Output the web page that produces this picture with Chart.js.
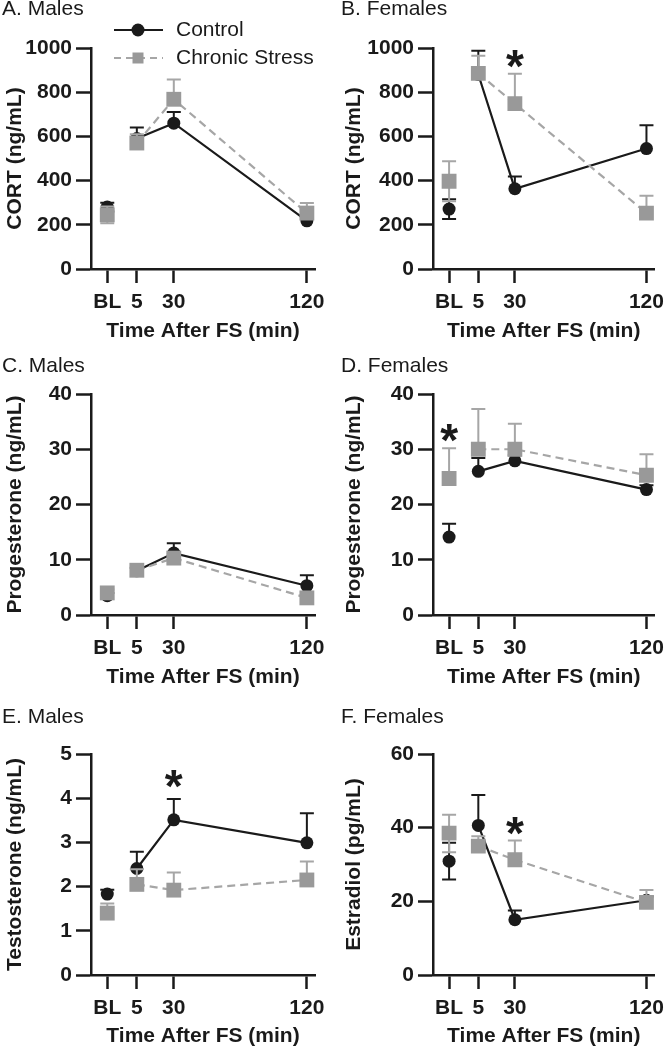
<!DOCTYPE html>
<html>
<head>
<meta charset="utf-8">
<script src="https://cdn.jsdelivr.net/npm/chart.js@4.4.1/dist/chart.umd.min.js"></script>
<style>
  body { margin: 0; background: #fff; }
  #fig { position: relative; width: 665px; height: 1050px; overflow: hidden; background: #fff; }
  #fig canvas { position: absolute; }
</style>
</head>
<body>
<div id="fig"></div>
<script>
// x positions (min after FS, BL drawn left of 5) and tick labels
const timePoints = [-15, 5, 30, 120];
const tickValues = [-15, 5, 30, 120];
const tickLabels = ['BL', '5', '30', '120'];
const seriesNames = ['Control', 'Chronic Stress'];

// A. CORT, males
const cortMaleCtrl = [280, 590, 660, 218];
const cortMaleCtrlErr = [20, 50, 50, 20];
const cortMaleCtrlErrLow = [20, 0, 0, 0];
const cortMaleStress = [245, 570, 768, 253];
const cortMaleStressErr = [38, 40, 90, 46];
const cortMaleStressErrLow = [38, 0, 0, 0];

// B. CORT, females
const cortFemCtrl = [271, 880, 363, 545];
const cortFemCtrlErr = [45, 108, 55, 105];
const cortFemCtrlErrLow = [45, 0, 0, 0];
const cortFemStress = [397, 885, 748, 253];
const cortFemStressErr = [90, 80, 135, 78];
const cortFemStressErrLow = [90, 0, 0, 0];
const cortFemStars = [[30, 966]];

// C. progesterone, males
const progMaleCtrl = [3.5, 8.0, 11.2, 5.3];
const progMaleCtrlErr = [0.5, 0.5, 1.8, 1.9];
const progMaleStress = [4.0, 8.1, 10.3, 3.1];
const progMaleStressErr = [0.6, 0.5, 0.8, 0.5];

// D. progesterone, females
const progFemCtrl = [14.1, 26.0, 27.9, 22.7];
const progFemCtrlErr = [2.4, 2.4, 1.0, 0.8];
const progFemStress = [24.7, 30.0, 30.0, 25.3];
const progFemStressErr = [5.5, 7.3, 4.6, 3.8];
const progFemStars = [[-15, 33.5]];

// E. testosterone, males
const testoCtrl = [1.83, 2.41, 3.51, 2.99];
const testoCtrlErr = [0.1, 0.38, 0.47, 0.67];
const testoStress = [1.40, 2.05, 1.92, 2.15];
const testoStressErr = [0.22, 0.34, 0.40, 0.42];
const testoStars = [[30, 4.5]];

// F. estradiol, females
const estraCtrl = [30.9, 40.6, 15.0, 20.3];
const estraCtrlErr = [5.0, 8.3, 2.5, 1.0];
const estraCtrlErrLow = [5.0, 0, 0, 0];
const estraStress = [38.5, 35.0, 31.3, 19.7];
const estraStressErr = [5.0, 2.7, 5.2, 3.4];
const estraStressErrLow = [5.2, 0, 0, 0];
const estraStars = [[30, 41.3]];

const noErr = [0, 0, 0, 0];

// layout (px) per row / column
const rowTop = [0, 350, 700];
const rowPlotTop = [48, 44, 54];
const rowAxisH = [81, 85, 75];
const rowXTitlePad = [6, 10, 1];
const rowTitleY = [9, 16, 17];
const colLeft = [0, 333];
const colWidth = [333, 332];
const colYAxisW = [91, 100];
const colPadR = [18, 8];
const colYTitlePad = [2.5, 8.5];
const colTitleX = [2, 8];

const ink = '#1a1a1a';
const grey = '#999999';
const greyLine = '#a6a6a6';
const FONT = '"Liberation Sans", Arial, Helvetica, sans-serif';

Chart.defaults.font.family = FONT;
Chart.defaults.font.size = 21;
Chart.defaults.font.weight = 'bold';
Chart.defaults.color = ink;

function pts(vals) {
    return vals.map((v, i) => ({ x: timePoints[i], y: v }));
}

// SEM bars, drawn just before their own dataset so markers sit on top
const errorBars = {
    id: 'errorBars',
    beforeDatasetDraw(chart, args) {
        const ds = chart.data.datasets[args.index];
        if (!ds.errUp) return;
        const xs = chart.scales.x, ys = chart.scales.y, ctx = chart.ctx;
        ctx.save();
        ctx.strokeStyle = ds.errColor;
        ctx.lineWidth = 2;
        ctx.setLineDash([]);
        ds.data.forEach((p, i) => {
            const x = xs.getPixelForValue(p.x);
            const y = ys.getPixelForValue(p.y);
            [[ds.errUp[i], 1], [ds.errDown[i], -1]].forEach(([e, sgn]) => {
                if (!e) return;
                const ye = ys.getPixelForValue(p.y + sgn * e);
                ctx.beginPath();
                ctx.moveTo(x, y);
                ctx.lineTo(x, ye);
                ctx.moveTo(x - 7, ye);
                ctx.lineTo(x + 7, ye);
                ctx.stroke();
            });
        });
        ctx.restore();
    }
};

function makePanel(p) {
    const canvas = document.createElement('canvas');
    canvas.width = colWidth[p.col];
    canvas.height = 350;
    canvas.style.left = colLeft[p.col] + 'px';
    canvas.style.top = rowTop[p.row] + 'px';
    document.getElementById('fig').appendChild(canvas);

    const panelText = {
        id: 'panelText',
        afterDraw(chart) {
            const ctx = chart.ctx;
            ctx.save();
            ctx.fillStyle = ink;
            ctx.font = '21px ' + FONT;
            ctx.textAlign = 'left';
            ctx.textBaseline = 'middle';
            ctx.fillText(p.title, colTitleX[p.col], rowTitleY[p.row]);

            ctx.font = 'bold 46px ' + FONT;
            ctx.textAlign = 'center';
            ctx.textBaseline = 'alphabetic';
            (p.stars || []).forEach(([sx, sy]) => {
                const x = chart.scales.x.getPixelForValue(sx);
                const y = chart.scales.y.getPixelForValue(sy);
                ctx.fillText('*', x, y + 26);
            });

            if (p.legend) {
                ctx.font = '21px ' + FONT;
                ctx.textAlign = 'left';
                ctx.textBaseline = 'middle';
                // Control
                ctx.strokeStyle = ink; ctx.lineWidth = 2.2;
                ctx.beginPath(); ctx.moveTo(114, 30); ctx.lineTo(163, 30); ctx.stroke();
                ctx.beginPath(); ctx.arc(138, 30, 6.5, 0, Math.PI * 2); ctx.fill();
                ctx.fillText(seriesNames[0], 176, 30);
                // Chronic Stress
                ctx.strokeStyle = greyLine; ctx.setLineDash([7, 5]);
                ctx.beginPath(); ctx.moveTo(114, 58); ctx.lineTo(163, 58); ctx.stroke();
                ctx.setLineDash([]);
                ctx.fillStyle = grey; ctx.fillRect(132.5, 52.5, 11, 11);
                ctx.fillStyle = ink;
                ctx.fillText(seriesNames[1], 176, 58);
            }
            ctx.restore();
        }
    };

    new Chart(canvas, {
        type: 'line',
        data: {
            datasets: [
                {
                    label: seriesNames[0],
                    data: pts(p.ctrl),
                    errUp: p.ctrlErr, errDown: p.ctrlErrLow || noErr, errColor: ink,
                    borderColor: ink, borderWidth: 2.2, tension: 0, fill: false,
                    segment: { borderColor: c => c.p0DataIndex === 0 ? 'rgba(0,0,0,0)' : ink },
                    pointStyle: 'circle', pointRadius: 6.5, pointBorderWidth: 0,
                    pointBackgroundColor: ink,
                    order: 2
                },
                {
                    label: seriesNames[1],
                    data: pts(p.stress),
                    errUp: p.stressErr, errDown: p.stressErrLow || noErr, errColor: greyLine,
                    borderColor: greyLine, borderWidth: 2.2, borderDash: [8, 5], tension: 0, fill: false,
                    segment: { borderColor: c => c.p0DataIndex === 0 ? 'rgba(0,0,0,0)' : greyLine },
                    pointStyle: 'rect', pointRadius: 10.5, pointBorderWidth: 0,
                    pointBackgroundColor: grey,
                    order: 1
                }
            ]
        },
        options: {
            responsive: false,
            animation: false,
            events: [],
            layout: { padding: { left: 0, right: colPadR[p.col], top: rowPlotTop[p.row], bottom: 0 } },
            plugins: { legend: { display: false }, tooltip: { enabled: false } },
            scales: {
                x: {
                    type: 'linear', min: -26, max: 125.5,
                    afterBuildTicks: s => { s.ticks = tickValues.map(v => ({ value: v })); },
                    afterFit: s => { s.height = rowAxisH[p.row]; s.paddingLeft = 0; s.paddingRight = 0; },
                    ticks: {
                        callback: v => tickLabels[tickValues.indexOf(v)],
                        autoSkip: false, maxRotation: 0, padding: 7
                    },
                    grid: { drawOnChartArea: false, tickLength: 14, tickWidth: 2.5, tickColor: ink },
                    border: { color: ink, width: 2.5 },
                    title: { display: true, text: 'Time After FS (min)', padding: { top: 0, bottom: rowXTitlePad[p.row] } }
                },
                y: {
                    min: 0, max: p.yMax,
                    afterFit: s => { s.width = colYAxisW[p.col]; s.paddingTop = 0; s.paddingBottom = 0; },
                    ticks: { stepSize: p.yStep, padding: 4, callback: v => String(v) },
                    grid: { drawOnChartArea: false, tickLength: 15, tickWidth: 2.5, tickColor: ink },
                    border: { color: ink, width: 2.5 },
                    title: { display: true, text: p.yTitle, padding: { top: colYTitlePad[p.col], bottom: 0 } }
                }
            }
        },
        plugins: [errorBars, panelText]
    });
}

makePanel({ row: 0, col: 0, title: 'A. Males', yTitle: 'CORT (ng/mL)', yMax: 1000, yStep: 200,
    ctrl: cortMaleCtrl, ctrlErr: cortMaleCtrlErr, ctrlErrLow: cortMaleCtrlErrLow,
    stress: cortMaleStress, stressErr: cortMaleStressErr, stressErrLow: cortMaleStressErrLow,
    legend: true });
makePanel({ row: 0, col: 1, title: 'B. Females', yTitle: 'CORT (ng/mL)', yMax: 1000, yStep: 200,
    ctrl: cortFemCtrl, ctrlErr: cortFemCtrlErr, ctrlErrLow: cortFemCtrlErrLow,
    stress: cortFemStress, stressErr: cortFemStressErr, stressErrLow: cortFemStressErrLow,
    stars: cortFemStars });
makePanel({ row: 1, col: 0, title: 'C. Males', yTitle: 'Progesterone (ng/mL)', yMax: 40, yStep: 10,
    ctrl: progMaleCtrl, ctrlErr: progMaleCtrlErr,
    stress: progMaleStress, stressErr: progMaleStressErr });
makePanel({ row: 1, col: 1, title: 'D. Females', yTitle: 'Progesterone (ng/mL)', yMax: 40, yStep: 10,
    ctrl: progFemCtrl, ctrlErr: progFemCtrlErr,
    stress: progFemStress, stressErr: progFemStressErr,
    stars: progFemStars });
makePanel({ row: 2, col: 0, title: 'E. Males', yTitle: 'Testosterone (ng/mL)', yMax: 5, yStep: 1,
    ctrl: testoCtrl, ctrlErr: testoCtrlErr,
    stress: testoStress, stressErr: testoStressErr,
    stars: testoStars });
makePanel({ row: 2, col: 1, title: 'F. Females', yTitle: 'Estradiol (pg/mL)', yMax: 60, yStep: 20,
    ctrl: estraCtrl, ctrlErr: estraCtrlErr, ctrlErrLow: estraCtrlErrLow,
    stress: estraStress, stressErr: estraStressErr, stressErrLow: estraStressErrLow,
    stars: estraStars });
</script>
</body>
</html>
